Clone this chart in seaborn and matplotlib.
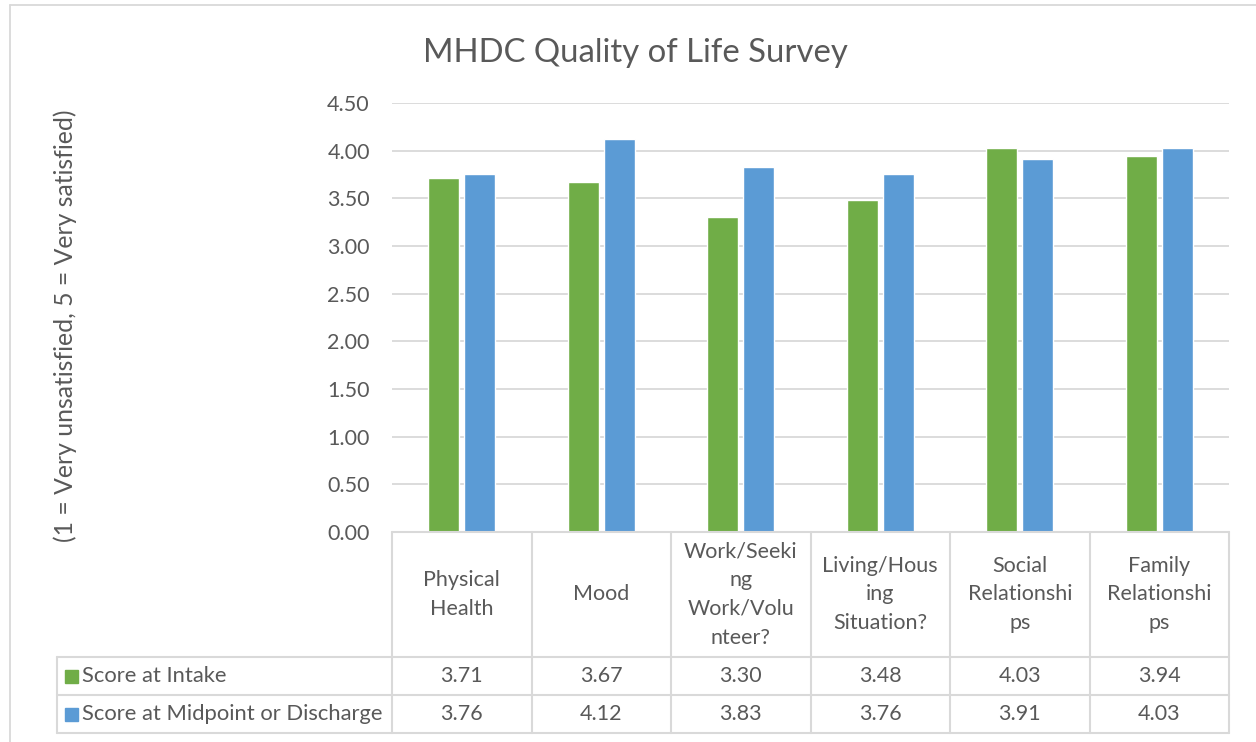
import numpy as np
import pandas as pd
import matplotlib.pyplot as plt
import matplotlib.transforms as mtransforms
from matplotlib.patches import Rectangle
import seaborn as sns

# chart data
categories = ["Physical Health", "Mood", "Work/Seeking Work/Volunteer?",
              "Living/Housing Situation?", "Social Relationships",
              "Family Relationships"]
# labels wrapped the way the cell widths wrap them
category_labels = ["Physical\nHealth", "Mood", "Work/Seeki\nng\nWork/Volu\nnteer?",
                   "Living/Hous\ning\nSituation?", "Social\nRelationshi\nps",
                   "Family\nRelationshi\nps"]
series_names = ["Score at Intake", "Score at Midpoint or Discharge"]
intake_scores = [3.71, 3.67, 3.30, 3.48, 4.03, 3.94]
discharge_scores = [3.76, 4.12, 3.83, 3.76, 3.91, 4.03]
y_ticks = [0.0, 0.5, 1.0, 1.5, 2.0, 2.5, 3.0, 3.5, 4.0, 4.5]

colors = ["#70AD47", "#5B9BD5"]
text_color = "#595959"
line_color = "#D9D9D9"
fs = 15.5

df = pd.DataFrame({
    "category": categories * 2,
    "series": [series_names[0]] * 6 + [series_names[1]] * 6,
    "score": intake_scores + discharge_scores,
})

sns.set_theme(style="white")
plt.rcParams['font.family'] = ['Lato', 'DejaVu Sans']

fig = plt.figure(figsize=(12.56, 7.42), dpi=100)
ax = fig.add_axes([392 / 1256, 1 - 532 / 742, 837 / 1256, 429 / 742])

sns.barplot(data=df, x="category", y="score", hue="series", palette=colors,
            width=0.51, gap=0.13, ax=ax, legend=False, saturation=1)

ax.set_ylim(0, 4.5)
ax.set_xlim(-0.5, 5.5)
ax.set_yticks(y_ticks)
ax.set_yticklabels([f"{t:.2f}" for t in y_ticks])
ax.set_xticks([])
ax.set_xlabel("")
ax.set_ylabel("")
ax.tick_params(axis="y", length=0, pad=16, labelsize=fs, labelcolor=text_color)
ax.grid(axis="y", color=line_color, linewidth=1.3)
ax.set_axisbelow(True)
for s in ax.spines.values():
    s.set_visible(False)

# data table under the plot
blend = mtransforms.blended_transform_factory(ax.transData, ax.transAxes)
row_y = [0, -125 / 429, -163 / 429, -201 / 429]
left_x = (57 - 392) / 837
lw = 1.5

ax.plot([0, 1], [row_y[0]] * 2, transform=ax.transAxes, color=line_color,
        lw=lw, clip_on=False)
for y in row_y[1:]:
    ax.plot([left_x, 1], [y, y], transform=ax.transAxes, color=line_color,
            lw=lw, clip_on=False)
for i in range(len(categories) + 1):
    ax.plot([i - 0.5, i - 0.5], [row_y[0], row_y[3]], transform=blend,
            color=line_color, lw=lw, clip_on=False)
ax.plot([left_x, left_x], [row_y[1], row_y[3]], transform=ax.transAxes,
        color=line_color, lw=lw, clip_on=False)

for i, lab in enumerate(category_labels):
    ax.text(i, (row_y[0] + row_y[1]) / 2, lab, transform=blend, ha="center",
            va="center", fontsize=fs, color=text_color, linespacing=1.55)

for r, (name, vals) in enumerate(zip(series_names, [intake_scores, discharge_scores])):
    yc = (row_y[r + 1] + row_y[r + 2]) / 2
    for i, v in enumerate(vals):
        ax.text(i, yc, f"{v:.2f}", transform=blend, ha="center", va="center",
                fontsize=fs, color=text_color)
    ax.add_patch(Rectangle(((65 - 392) / 837, yc - 6.5 / 429), 13 / 837, 13 / 429,
                           transform=ax.transAxes, color=colors[r], clip_on=False))
    ax.text((82 - 392) / 837, yc, name, transform=ax.transAxes, ha="left",
            va="center", fontsize=15.8, color=text_color)

# title, axis title and chart border
fig.text(635 / 1256, 1 - 53 / 742, "MHDC Quality of Life Survey", ha="center",
         va="center", fontsize=23.7, color=text_color)
fig.text(65 / 1256, 1 - 326 / 742, "(1 = Very unsatisfied, 5 = Very satisfied)",
         rotation=90, ha="center", va="center", fontsize=17.8, color=text_color)
fig.add_artist(plt.Line2D([10 / 1256, 10 / 1256], [0, 1 - 5 / 742],
                          transform=fig.transFigure, color=line_color, lw=1.3))
fig.add_artist(plt.Line2D([10 / 1256, 1], [1 - 5 / 742, 1 - 5 / 742],
                          transform=fig.transFigure, color=line_color, lw=1.3))

fig.savefig("out.png", dpi=100)
